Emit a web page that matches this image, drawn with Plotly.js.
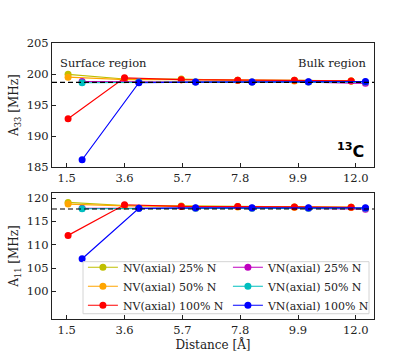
<!DOCTYPE html>
<html>
<head>
<meta charset="utf-8">
<script src="https://cdn.plot.ly/plotly-3.0.1.min.js"></script>
<style>
  html, body { margin: 0; padding: 0; background: #fff; }
  #chart { width: 415px; height: 359px; }
</style>
</head>
<body>
<div id="chart"></div>
<script>
// distances of the sampled layers
const distNV = [1.55, 3.60, 5.66, 7.71, 9.77, 11.83];
const distVN = [2.06, 4.12, 6.18, 8.23, 10.28, 12.35];

// A33 (top panel)
const a33NV25 = [199.95, 199.2, 199.2, 199.0, 199.0, 198.9];
const a33NV50 = [199.5, 199.1, 199.1, 199.0, 198.9, 198.9];
const a33NV100 = [192.8, 199.4, 199.1, 199.0, 199.0, 198.9];
const a33VN25 = [198.8, 198.7, 198.7, 198.7, 198.7, 198.5];
const a33VN50 = [198.6, 198.7, 198.7, 198.7, 198.7, 198.7];
const a33VN100 = [186.2, 198.6, 198.7, 198.7, 198.75, 198.8];

// A11 (bottom panel)
const a11NV25 = [119.06, 118.4, 118.3, 118.2, 118.1, 118.0];
const a11NV50 = [118.7, 118.3, 118.2, 118.1, 118.0, 118.0];
const a11NV100 = [112.0, 118.56, 118.2, 118.2, 118.1, 118.0];
const a11VN25 = [117.8, 117.8, 117.8, 117.8, 117.8, 117.6];
const a11VN50 = [117.7, 117.8, 117.8, 117.8, 117.8, 117.8];
const a11VN100 = [107.0, 117.8, 117.9, 117.9, 117.9, 117.9];

// bulk reference values (dashed lines)
const bulkA33 = 198.65;
const bulkA11 = 117.65;

const xTicks = [1.5, 3.6, 5.7, 7.8, 9.9, 12.0];
const xTickText = ["1.5", "3.6", "5.7", "7.8", "9.9", "12.0"];
const y1Ticks = [185, 190, 195, 200, 205];
const y2Ticks = [100, 105, 110, 115, 120];

const serif = "DejaVu Serif, serif";

function mk(x, y, name, color, ax, show) {
    return {
        x: x, y: y, name: name, type: 'scatter', mode: 'lines+markers',
        xaxis: ax[0], yaxis: ax[1], showlegend: show,
        line: {color: color, width: 1.2},
        marker: {color: color, size: 7}
    };
}

const axTop = ['x', 'y'];
const axBot = ['x2', 'y2'];
const data = [
    mk(distNV, a33NV25, 'NV(axial) 25% N', '#bfbf00', axTop, false),
    mk(distNV, a33NV50, 'NV(axial) 50% N', '#ffa500', axTop, false),
    mk(distNV, a33NV100, 'NV(axial) 100% N', '#ff0000', axTop, false),
    mk(distVN, a33VN25, 'VN(axial) 25% N', '#bf00bf', axTop, false),
    mk(distVN, a33VN50, 'VN(axial) 50% N', '#00bfbf', axTop, false),
    mk(distVN, a33VN100, 'VN(axial) 100% N', '#0000ff', axTop, false),
    // bottom, interleaved so the horizontal legend fills two columns
    mk(distNV, a11NV25, 'NV(axial) 25% N', '#bfbf00', axBot, true),
    mk(distVN, a11VN25, 'VN(axial) 25% N', '#bf00bf', axBot, true),
    mk(distNV, a11NV50, 'NV(axial) 50% N', '#ffa500', axBot, true),
    mk(distVN, a11VN50, 'VN(axial) 50% N', '#00bfbf', axBot, true),
    mk(distNV, a11NV100, 'NV(axial) 100% N', '#ff0000', axBot, true),
    mk(distVN, a11VN100, 'VN(axial) 100% N', '#0000ff', axBot, true)
];

const xAx = {
    range: [0.966, 12.66], tickvals: xTicks, ticktext: xTickText,
    ticks: 'inside', ticklen: 4, tickcolor: '#222', showgrid: false, zeroline: false,
    showline: true, mirror: true, linecolor: '#222', linewidth: 1,
    tickfont: {family: serif, size: 11.5, color: '#222'}
};
const yAx = {
    ticks: 'inside', ticklen: 4, tickcolor: '#222', showgrid: false, zeroline: false,
    showline: true, mirror: true, linecolor: '#222', linewidth: 1,
    tickfont: {family: serif, size: 11.5, color: '#222'}
};

const layout = {
    width: 415, height: 359,
    margin: {l: 52, r: 41, t: 43, b: 40},
    paper_bgcolor: '#fff', plot_bgcolor: '#fff',
    font: {family: serif, color: '#222'},
    xaxis: Object.assign({}, xAx, {anchor: 'y'}),
    yaxis: Object.assign({}, yAx, {domain: [0.55, 1], range: [185, 205], tickvals: y1Ticks,
        title: {text: 'A<sub>33</sub> [MHz]', font: {family: serif, size: 12}, standoff: 5}}),
    xaxis2: Object.assign({}, xAx, {anchor: 'y2',
        title: {text: 'Distance [Å]', font: {family: serif, size: 12}, standoff: 2}}),
    yaxis2: Object.assign({}, yAx, {domain: [0, 0.4565], range: [94.1, 121.07], tickvals: y2Ticks,
        title: {text: 'A<sub>11</sub> [MHz]', font: {family: serif, size: 12}, standoff: 5}}),
    shapes: [
        {type: 'line', xref: 'x domain', yref: 'y', x0: 0, x1: 1, y0: bulkA33, y1: bulkA33,
         line: {color: '#000', width: 1.2, dash: '5px,3px'}, layer: 'above'},
        {type: 'line', xref: 'x2 domain', yref: 'y2', x0: 0, x1: 1, y0: bulkA11, y1: bulkA11,
         line: {color: '#000', width: 1.2, dash: '5px,3px'}, layer: 'above'},
        // legend frame
        {type: 'rect', xref: 'x2 domain', yref: 'y2 domain', x0: 0.0963, x1: 0.9845, y0: 0.042, y1: 0.455,
         fillcolor: 'rgba(255,255,255,0.85)', line: {color: '#d4d4d4', width: 1}, layer: 'above'}
    ],
    annotations: [
        {text: 'Surface region', xref: 'x domain', yref: 'y domain', x: 0.018, y: 0.84,
         xanchor: 'left', yanchor: 'middle', showarrow: false,
         font: {family: serif, size: 11.5, color: '#222'}},
        {text: 'Bulk region', xref: 'x domain', yref: 'y domain', x: 0.982, y: 0.84,
         xanchor: 'right', yanchor: 'middle', showarrow: false,
         font: {family: serif, size: 11.5, color: '#222'}},
        {text: '<b><sup>13</sup>C</b>', xref: 'x domain', yref: 'y domain', x: 0.976, y: 0.03,
         xanchor: 'right', yanchor: 'bottom', showarrow: false,
         font: {family: 'DejaVu Sans, sans-serif', size: 16, color: '#000'}}
    ],
    legend: {
        orientation: 'h', x: 0.096, y: 0.24, xanchor: 'left', yanchor: 'top',
        entrywidth: 100, entrywidthmode: 'pixels', itemwidth: 30,
        bgcolor: 'rgba(0,0,0,0)', borderwidth: 0,
        font: {family: serif, size: 11, color: '#222'}, traceorder: 'normal'
    }
};

Plotly.newPlot('chart', data, layout, {displayModeBar: false});
</script>
</body>
</html>
